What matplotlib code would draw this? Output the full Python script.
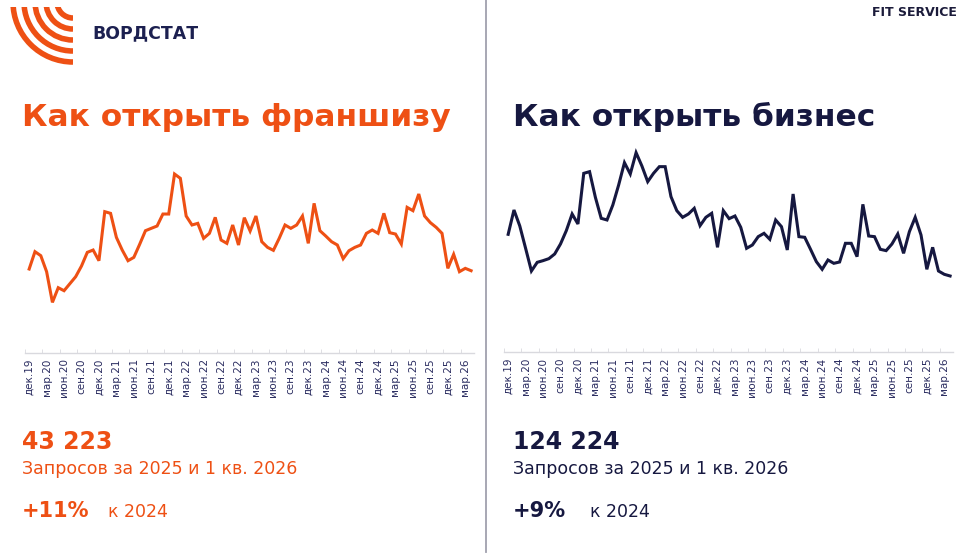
import numpy as np
import matplotlib
matplotlib.use('Agg')
import matplotlib.pyplot as plt
from matplotlib.patches import Arc

# colours
ORANGE = '#EE5014'
NAVY   = '#161840'
GREY   = '#D9D9DE'

# monthly requests, dec.19 .. apr.26
franchise = [1782, 2318, 2194, 1700, 752, 1205, 1112, 1329, 1545, 1875,
             2297, 2369, 2039, 3554, 3502, 2760, 2369, 2039, 2142, 2544,
             2966, 3039, 3111, 3481, 3481, 4717, 4584, 3420, 3142, 3193,
             2730, 2884, 3378, 2678, 2575, 3142, 2524, 3368, 2956, 3420,
             2627, 2451, 2359, 2730, 3142, 3039, 3142, 3420, 2575, 3811,
             2966, 2802, 2627, 2524, 2101, 2348, 2451, 2524, 2884, 2987,
             2884, 3502, 2905, 2863, 2554, 3687, 3584, 4099, 3420, 3214,
             3069, 2884, 1803, 2235, 1700, 1803, 1730]

business = [9066, 11154, 9781, 7865, 5920, 6664, 6807, 6978, 7379, 8237,
            9381, 10811, 9953, 14300, 14443, 12241, 10439, 10296, 11583, 13299,
            15215, 14243, 16073, 14929, 13585, 14300, 14872, 14872, 12298, 11097,
            10525, 10811, 11297, 9810, 10525, 10868, 7951, 11097, 10410, 10639,
            9667, 7865, 8151, 8866, 9152, 8637, 10296, 9724, 7722, 12527,
            8866, 8809, 7779, 6721, 6063, 6864, 6578, 6692, 8294, 8294,
            7150, 11640, 8923, 8866, 7779, 7665, 8237, 9095, 7436, 9295,
            10525, 9009, 6063, 7951, 5920, 5634, 5491]

tick_labels = ['дек.19', 'мар.20', 'июн.20', 'сен.20', 'дек.20', 'мар.21', 'июн.21',
               'сен.21', 'дек.21', 'мар.22', 'июн.22', 'сен.22', 'дек.22', 'мар.23',
               'июн.23', 'сен.23', 'дек.23', 'мар.24', 'июн.24', 'сен.24', 'дек.24',
               'мар.25', 'июн.25', 'сен.25', 'дек.25', 'мар.26']

titles  = ['Как открыть франшизу', 'Как открыть бизнес']
totals  = ['43 223', '124 224']
growth  = ['+11%', '+9%']
caption = 'Запросов за 2025 и 1 кв. 2026'

plt.rcParams['font.family'] = ['DejaVu Sans']

W, H = 974, 559
fig = plt.figure(figsize=(W/100, H/100), dpi=100)

def fx(px):
    return px / W

def fy(py):
    return 1 - py / H

def draw_chart(rect, values, color, ylim):
    ax = fig.add_axes(rect)
    x = np.arange(len(values))
    ax.plot(x, values, color=color, lw=2.2, solid_joinstyle='miter')
    ax.set_xlim(-0.5, len(values) - 0.5)
    ax.set_ylim(*ylim)
    for s in ['top', 'left', 'right']:
        ax.spines[s].set_visible(False)
    ax.spines['bottom'].set_color(GREY)
    ax.spines['bottom'].set_linewidth(1)
    ax.set_yticks([])
    ax.set_xticks(np.arange(0, len(values), 3))
    ax.set_xticklabels(tick_labels[:len(ax.get_xticks())], rotation=90,
                       fontsize=7.5, color='#2A2C60')
    ax.tick_params(axis='x', length=0, pad=4)
    ax.set_xticks(np.arange(0, len(values), 3) - 0.75, minor=True)
    ax.tick_params(axis='x', which='minor', length=3, direction='in', color=GREY)
    ax.patch.set_alpha(0)
    return ax

# left / right charts
draw_chart([fx(24.8), fy(352.7), fx(449.2), (352.7 - 160) / H], franchise, ORANGE, (-803, 5150))
draw_chart([fx(503.8), fy(352.3), fx(449.2), (352.3 - 140) / H], business, NAVY, (-1058, 17160))

# divider
fig.add_artist(plt.Line2D([fx(486), fx(486)], [fy(0), fy(552)], color='#A0A0AE', lw=1.3))

# logo
lax = fig.add_axes([fx(5), fy(70), fx(68), 63 / H])
lax.set_xlim(5, 73)
lax.set_ylim(-70, -7)
lax.set_aspect('equal')
lax.axis('off')
for r in [60, 49, 38, 27, 16]:
    lax.add_patch(Arc((73, -2), 2*r, 2*r, theta1=180, theta2=270, color=ORANGE, lw=4))

fig.text(fx(92), fy(33), 'ВОРДСТАТ', fontsize=12.5, fontweight='bold', color='#1C2050',
         va='center', ha='left')
fig.text(fx(957), fy(13), 'FIT SERVICE', fontsize=9, fontweight='bold', color='#1B1B3A',
         va='center', ha='right')

# titles and figures below
for x0, title, total, grow, kx, color in [(22, titles[0], totals[0], growth[0], 108, ORANGE),
                                          (513, titles[1], totals[1], growth[1], 590, NAVY)]:
    fig.text(fx(x0), fy(117), title, fontsize=22.5, fontweight='bold', color=color,
             va='center', ha='left')
    fig.text(fx(x0), fy(442), total, fontsize=17, fontweight='bold', color=color,
             va='center', ha='left')
    fig.text(fx(x0), fy(469), caption, fontsize=12.5, color=color, va='center', ha='left')
    fig.text(fx(x0), fy(511), grow, fontsize=15, fontweight='bold', color=color,
             va='center', ha='left')
    fig.text(fx(kx), fy(512), 'к 2024', fontsize=12.5, color=color, va='center', ha='left')

fig.savefig('out.png', dpi=100, facecolor='white')
